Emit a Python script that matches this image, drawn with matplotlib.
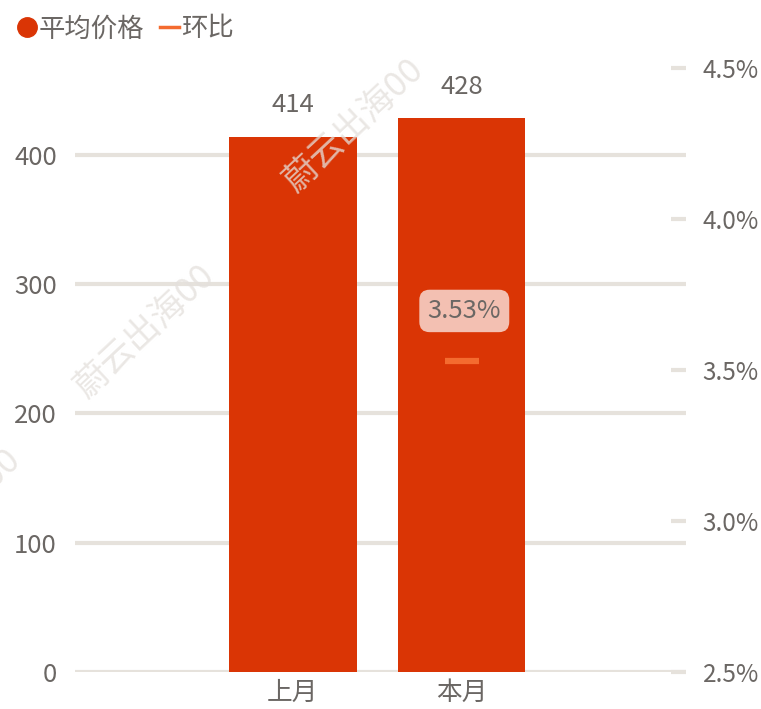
import matplotlib.pyplot as plt
import numpy as np
from matplotlib.lines import Line2D

plt.rcParams['font.family'] = ['Noto Sans CJK SC', 'DejaVu Sans']

# Dados do gráfico
categorias = ['上月', '本月']
preco_medio = [414, 428]
huanbi = [np.nan, 3.53]          # % , só existe para o mês atual
ticks_esq = [0, 100, 200, 300, 400]
ticks_dir = [2.5, 3.0, 3.5, 4.0, 4.5]

cor_barra = '#DA3505'
cor_linha = '#F46B2F'
cor_grade = '#E6E2DC'
cor_texto = '#6B6764'
fs = 18.5

fig = plt.figure(figsize=(7.61, 7.09), dpi=100)
ax = fig.add_axes([75/761, 37/709, 611/761, 604/709])
ax2 = ax.twinx()

x = np.arange(len(categorias))
ax.bar(x, preco_medio, width=0.757, color=cor_barra, zorder=2)
for xi, v in zip(x, preco_medio):
    ax.annotate(f'{v}', (xi, v), xytext=(0, 13), textcoords='offset points',
                ha='center', va='bottom', fontsize=fs, color=cor_texto)

ax.set_xlim(-1.29, 2.33)
ax.set_ylim(0, 467)
ax.set_yticks(ticks_esq)
ax.set_xticks(x)
ax.set_xticklabels(categorias)
ax.grid(axis='y', color=cor_grade, linewidth=3, zorder=0)
ax.set_axisbelow(True)
for s in ax.spines.values():
    s.set_visible(False)
ax.tick_params(axis='y', length=0, pad=13, labelsize=fs, labelcolor=cor_texto)
ax.tick_params(axis='x', length=0, pad=6, labelsize=fs, labelcolor=cor_texto)

# Eixo da direita (环比)
ax2.plot(x, huanbi, linestyle='none', marker='_', markersize=24,
         markeredgewidth=4.5, color=cor_linha, zorder=3)
for xi, v in zip(x, huanbi):
    if np.isnan(v):
        continue
    ax2.annotate(f'{v:.2f}%', (xi, v), xytext=(2, 36), textcoords='offset points',
                 ha='center', va='center', fontsize=fs, color=cor_texto,
                 bbox=dict(boxstyle='round,pad=0.32,rounding_size=0.4',
                           fc='#F3C0B2', ec='none'))
ax2.set_ylim(2.5, 4.5)
ax2.set_yticks(ticks_dir)
ax2.set_yticklabels([f'{t:.1f}%' for t in ticks_dir])
for s in ax2.spines.values():
    s.set_visible(False)
ax2.tick_params(axis='y', direction='in', length=11, width=3, color=cor_grade,
                pad=12, labelsize=17.5, labelcolor=cor_texto)

# Legenda
handles = [Line2D([], [], linestyle='none', marker='o', markersize=14, color=cor_barra),
           Line2D([], [], color=cor_linha, linewidth=2.5)]
fig.legend(handles, ['平均价格', '环比'], loc='upper left', bbox_to_anchor=(-0.008, 1.012),
           ncol=2, frameon=False, fontsize=19, labelcolor=cor_texto,
           handlelength=0.7, handletextpad=0.1, columnspacing=0.6)

# Marca d'água
for (px, py) in [(0.09, 0.43), (0.365, 0.72), (-0.165, 0.17)]:
    fig.text(px, py, '蔚云出海00', rotation=43, fontsize=25, color='#E4E0DC',
             alpha=0.75, ha='left', va='bottom', zorder=10)

fig.savefig('out.png', dpi=100)
